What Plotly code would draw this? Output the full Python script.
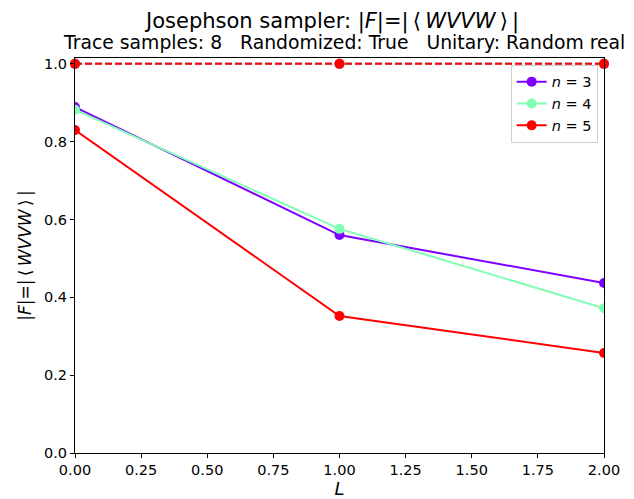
import plotly.graph_objects as go

L = [0, 1, 2]
fid_n3 = [0.889, 0.560, 0.437]
fid_n4 = [0.882, 0.576, 0.372]
fid_n5 = [0.830, 0.352, 0.257]
exact = [1.0, 1.0, 1.0]
series_names = ["<i>n</i> = 3", "<i>n</i> = 4", "<i>n</i> = 5"]
colors = ["#7f00ff", "#80ffb4", "#ff0000"]
x_ticks = [0, 0.25, 0.5, 0.75, 1.0, 1.25, 1.5, 1.75, 2.0]
y_ticks = [0.0, 0.2, 0.4, 0.6, 0.8, 1.0]

FONT = "DejaVu Sans"
fig = go.Figure()
for vals, name, col in zip([fid_n3, fid_n4, fid_n5], series_names, colors):
    fig.add_trace(go.Scatter(x=L, y=vals, mode="lines+markers", name=name,
                             line=dict(color=col, width=2),
                             marker=dict(color=col, size=10)))
    fig.add_trace(go.Scatter(x=L, y=exact, mode="lines+markers", showlegend=False,
                             line=dict(color=col, width=2, dash="7px,3px"),
                             marker=dict(color=col, size=10), cliponaxis=False))

fabs = "|<i>F</i>|=|\u2009\u27e8\u2009<i>WVVW</i>\u2009\u27e9\u2009|"
fig.update_layout(
    width=634, height=499,
    margin=dict(l=75, r=30, t=58, b=46),
    plot_bgcolor="white", paper_bgcolor="white",
    font=dict(family=FONT, size=14.5, color="black"),
    showlegend=True,
    legend=dict(x=0.988, y=0.983, xanchor="right", yanchor="top",
                bgcolor="rgba(255,255,255,0.8)", bordercolor="#d0d0d0", borderwidth=1,
                font=dict(size=14.5, family=FONT), tracegroupgap=0, itemwidth=30),
    xaxis=dict(range=[0, 2], tickvals=x_ticks, ticktext=[f"{v:.2f}" for v in x_ticks],
               showgrid=False, zeroline=False, showline=True, linecolor="black", linewidth=1,
               mirror=True, ticks="outside", ticklen=4, tickcolor="black", automargin=False,
               title=dict(text="<i>L</i>", font=dict(size=18), standoff=5)),
    yaxis=dict(range=[0, 1.015], tickvals=y_ticks, ticktext=[f"{v:.1f}" for v in y_ticks],
               showgrid=False, zeroline=False, showline=True, linecolor="black", linewidth=1,
               mirror=True, ticks="outside", ticklen=4, tickcolor="black", automargin=False,
               title=dict(text=fabs, font=dict(size=17), standoff=8)),
)
fig.add_annotation(text="Josephson sampler: " + fabs,
                   xref="paper", yref="paper", x=(331 - 75) / 529, y=1, yshift=37,
                   showarrow=False, font=dict(size=21, family=FONT), xanchor="center", yanchor="middle")
fig.add_annotation(text="Trace samples: 8\u00a0\u00a0\u00a0Randomized: True\u00a0\u00a0\u00a0Unitary: Random real",
                   xref="paper", yref="paper", x=(344 - 75) / 529, y=1, yshift=16,
                   showarrow=False, font=dict(size=18.8, family=FONT), xanchor="center", yanchor="middle")
fig.write_html("out.html")
